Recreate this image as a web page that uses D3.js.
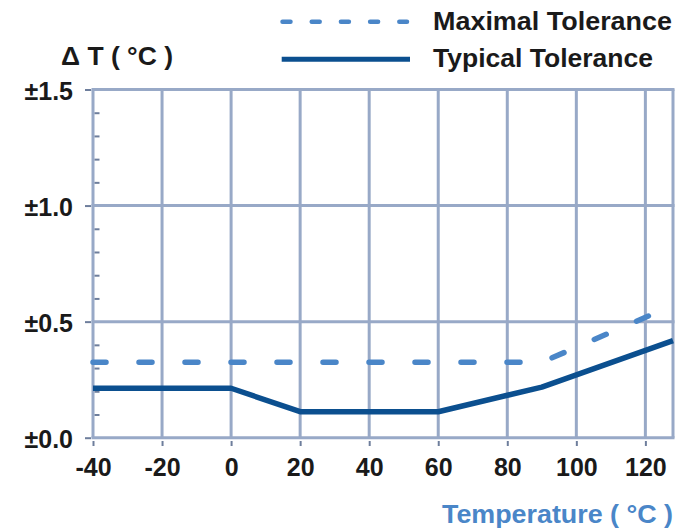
<!DOCTYPE html>
<html>
<head>
<meta charset="utf-8">
<script src="https://cdn.jsdelivr.net/npm/d3@7"></script>
<style>
  body { margin: 0; background: #fff; }
  text { font-family: "Liberation Sans", Arial, sans-serif; font-weight: bold; }
</style>
</head>
<body>
<svg id="chart" width="680" height="530"></svg>
<script>
// chart values
var xTicks = [-40, -20, 0, 20, 40, 60, 80, 100, 120];
var yTicks = [0, 0.5, 1.0, 1.5];
var yLabels = ['±0.0', '±0.5', '±1.0', '±1.5'];
var yMinor = [0.1, 0.2, 0.3, 0.4, 0.6, 0.7, 0.8, 0.9, 1.1, 1.2, 1.3, 1.4];
var maxTemp = [-40, 90, 128];
var maxTol  = [0.325, 0.325, 0.57];
var typTemp = [-40, 0, 20, 60, 90, 128];
var typTol  = [0.213, 0.213, 0.112, 0.112, 0.218, 0.418];
var legendNames = ['Maximal Tolerance', 'Typical Tolerance'];

var gridColor = '#98a9c7', tickColor = '#6e7e9c';
var maxColor = '#4a86c8', typColor = '#0b4f8f';

var svg = d3.select('#chart');
var x = d3.scaleLinear().domain([-40, 128]).range([93, 673]);
var y = d3.scaleLinear().domain([0, 1.5]).range([437.7, 89.5]);

// grid
var grid = svg.append('g');
grid.selectAll('line.v').data(xTicks.concat([128]))
  .enter().append('line')
  .attr('x1', function(d) { return x(d) }).attr('x2', function(d) { return x(d) })
  .attr('y1', y(1.5)).attr('y2', y(0))
  .attr('stroke', gridColor).attr('stroke-width', 3);
grid.selectAll('line.h').data(yTicks)
  .enter().append('line')
  .attr('x1', x(-40) - 1.5).attr('x2', x(128) + 1.5)
  .attr('y1', function(d) { return y(d) }).attr('y2', function(d) { return y(d) })
  .attr('stroke', gridColor).attr('stroke-width', 3);

// x axis
var xAxis = svg.append('g').attr('transform', 'translate(0,441)')
  .call(d3.axisBottom(x).tickValues(xTicks).tickSize(5)
    .tickFormat(function(d) { return String(d) }));
xAxis.select('.domain').remove();
xAxis.selectAll('.tick line').attr('stroke', tickColor).attr('stroke-width', 2);
xAxis.selectAll('.tick text').attr('y', 35).attr('dy', 0)
  .attr('fill', '#1a1a1a').style('font-size', '25px');

// y axis, major ticks outside
var yAxis = svg.append('g').attr('transform', 'translate(91,0)')
  .call(d3.axisLeft(y).tickValues(yTicks).tickSize(6)
    .tickFormat(function(d, i) { return yLabels[i] }));
yAxis.select('.domain').remove();
yAxis.selectAll('.tick line').attr('stroke', tickColor).attr('stroke-width', 2);
yAxis.selectAll('.tick text').attr('x', -18).attr('dy', 9.5)
  .attr('fill', '#1a1a1a').style('font-size', '25px');

// minor ticks inside
var yMin = svg.append('g').attr('transform', 'translate(94.5,0)')
  .call(d3.axisRight(y).tickValues(yMinor).tickSize(5).tickFormat(''));
yMin.select('.domain').remove();
yMin.selectAll('.tick line').attr('stroke', tickColor).attr('stroke-width', 2);

// series
var line = d3.line()
  .x(function(d) { return x(d[0]) })
  .y(function(d) { return y(d[1]) });

svg.append('path')
  .datum(maxTemp.map(function(t, i) { return [t, maxTol[i]] }))
  .attr('d', line).attr('fill', 'none')
  .attr('stroke', maxColor).attr('stroke-width', 5.5)
  .attr('stroke-linecap', 'round').attr('stroke-dasharray', '13,33');

svg.append('path')
  .datum(typTemp.map(function(t, i) { return [t, typTol[i]] }))
  .attr('d', line).attr('fill', 'none')
  .attr('stroke', typColor).attr('stroke-width', 5.5)
  .attr('stroke-linejoin', 'round');

// legend
svg.append('line').attr('x1', 282.5).attr('x2', 407).attr('y1', 21.7).attr('y2', 21.7)
  .attr('stroke', maxColor).attr('stroke-width', 4.5)
  .attr('stroke-linecap', 'round').attr('stroke-dasharray', '8,21.2');
svg.append('line').attr('x1', 281.7).attr('x2', 410).attr('y1', 59.2).attr('y2', 59.2)
  .attr('stroke', typColor).attr('stroke-width', 5);

svg.selectAll('text.legend').data(legendNames)
  .enter().append('text')
  .attr('x', 433).attr('y', function(d, i) { return 30 + i * 37 })
  .attr('textLength', function(d, i) { return i == 0 ? 239 : 220 })
  .attr('lengthAdjust', 'spacingAndGlyphs')
  .attr('fill', '#1a1a1a').style('font-size', '25px')
  .text(function(d) { return d });

// axis titles
svg.append('text').attr('x', 61).attr('y', 65)
  .attr('textLength', 112).attr('lengthAdjust', 'spacingAndGlyphs')
  .attr('fill', '#1a1a1a').style('font-size', '25px')
  .text('Δ T ( °C )');
svg.append('text').attr('x', 442).attr('y', 523)
  .attr('textLength', 231).attr('lengthAdjust', 'spacingAndGlyphs')
  .attr('fill', maxColor).style('font-size', '25px')
  .text('Temperature ( °C )');
</script>
</body>
</html>
